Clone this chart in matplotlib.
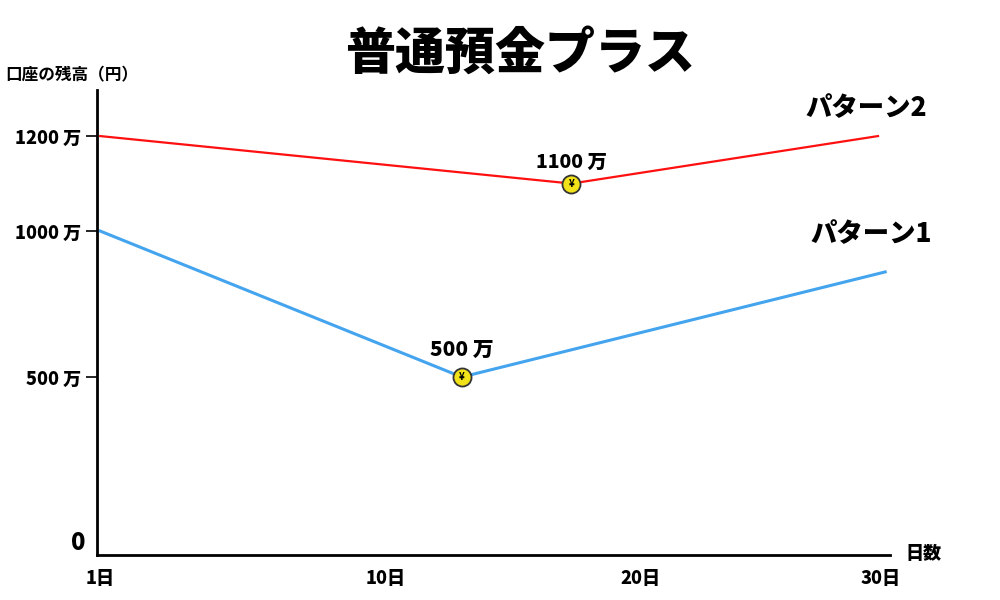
import numpy as np
import matplotlib.pyplot as plt

plt.rcParams['font.family'] = ['Noto Sans CJK JP', 'DejaVu Sans']

# data (days, balance in 万円)
days_p1 = [1, 13, 30.2]
vals_p1 = [1000, 500, 860]
days_p2 = [1, 17.3, 29.9]
vals_p2 = [1200, 1100, 1200]
x_ticks = [1, 10, 20, 30]
x_labels = ['1日', '10日', '20日', '30日']
y_ticks = [500, 1000, 1200]
y_labels = ['500 万', '1000 万', '1200 万']

# schematic (non-linear) axes as in the reference
xd = [0, 1, 10, 20, 30, 31]
xp = [68, 100, 385, 640, 880, 904]
yd = [0, 500, 1000, 1200, 1400]
yp = [-555, -377, -231, -136, -41]
fx = (lambda v: np.interp(v, xd, xp), lambda p: np.interp(p, xp, xd))
fy = (lambda v: np.interp(v, yd, yp), lambda p: np.interp(p, yp, yd))

fig = plt.figure(figsize=(10, 6), dpi=100)
ax = fig.add_axes([0.097, 0.075, 0.793, 0.775])
ax.set_xscale('function', functions=fx)
ax.set_yscale('function', functions=fy)
ax.set_xlim(0.9, 30.4)
ax.set_ylim(0, 1297)

ax.plot(days_p2, vals_p2, color='#ff1010', lw=1.6)
ax.plot(days_p1, vals_p1, color='#44a4ee', lw=2.2)
for d, v in [(days_p1[1], vals_p1[1]), (days_p2[1], vals_p2[1])]:
    ax.plot(d, v, 'o', ms=13, mfc='#f2e21a', mec='#333', mew=1.3, zorder=5)
    ax.text(d, v, '¥', ha='center', va='center', fontsize=7, weight='bold', zorder=6)
ax.text(days_p1[1], vals_p1[1] + 60, '500 万', ha='center', va='bottom',
        fontsize=15, weight='black', style='italic')
ax.text(days_p2[1], vals_p2[1] + 25, '1100 万', ha='center', va='bottom',
        fontsize=14, weight='black', style='italic')
ax.text(29.4, 1230, 'パターン2', ha='center', va='bottom', fontsize=19, weight='black', style='italic')
ax.text(29.6, 940, 'パターン1', ha='center', va='bottom', fontsize=19, weight='black', style='italic')

for s in ['top', 'right']:
    ax.spines[s].set_visible(False)
for s in ['left', 'bottom']:
    ax.spines[s].set_linewidth(2)
ax.set_xticks(x_ticks, x_labels)
ax.set_yticks(y_ticks, y_labels)
ax.tick_params(axis='x', length=0, pad=10, labelsize=13)
ax.tick_params(axis='y', length=8, width=1.2, direction='out', labelsize=13)
for t in ax.get_xticklabels() + ax.get_yticklabels():
    t.set_fontweight('black')
    t.set_fontstyle('italic')

fig.text(0.078, 0.075, '0', ha='center', va='bottom', fontsize=17, weight='black', style='italic')
fig.text(0.005, 0.875, '口座の残高（円）', ha='left', va='center', fontsize=12, weight='bold')
fig.text(0.905, 0.078, '日数', ha='left', va='center', fontsize=13, weight='black')
fig.text(0.52, 0.91, '普通預金プラス', ha='center', va='center', fontsize=36, weight='black')

fig.savefig('out.png')
